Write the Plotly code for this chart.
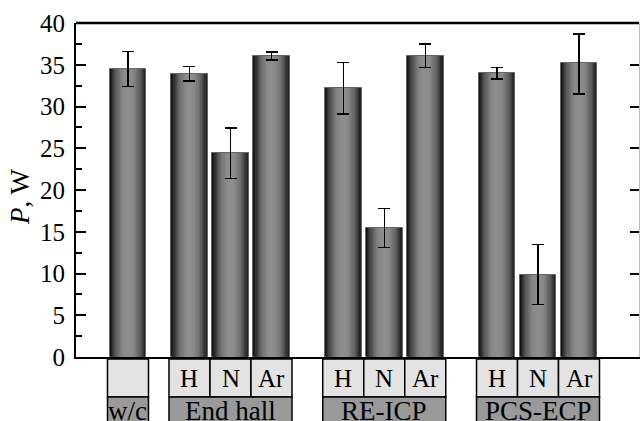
import math
import plotly.graph_objects as go

# ---- data ----
groups = ["w/c", "End hall", "RE-ICP", "PCS-ECP"]
gases = [[""], ["H", "N", "Ar"], ["H", "N", "Ar"], ["H", "N", "Ar"]]
power = [34.5, 33.9, 24.4, 36.1, 32.2, 15.4, 36.1, 34.0, 9.8, 35.2]
err_up = [2.1, 0.9, 3.0, 0.4, 3.1, 2.4, 1.4, 0.65, 3.7, 3.5]
err_down = [2.1, 0.85, 3.0, 0.55, 3.1, 2.3, 1.4, 0.7, 3.5, 3.7]
yticks = [0, 5, 10, 15, 20, 25, 30, 35, 40]

# ---- positions (layout) ----
group_gaps = [0, 1.5, 1.75, 1.75]
pos = []
group_pos = []
cur = 0.0
for gi, g in enumerate(gases):
    if gi > 0:
        cur = pos[-1] + group_gaps[gi]
    start = cur
    for k in range(len(g)):
        pos.append(cur)
        cur += 1
    group_pos.append((start, pos[-1]))

FONT = "Liberation Serif"
fig = go.Figure()

# cylinder-like bars via layered overlay bars
N = 16
full_w = 0.9
for k in range(N):
    u = 1 - k / N
    w = full_w * u
    lvl = int(18 + 125 * (1 - u ** 2.2))
    col = f"rgb({lvl},{lvl},{lvl})"
    fig.add_trace(go.Bar(
        x=pos, y=power, width=w,
        marker=dict(color=col,
                    line=dict(width=1 if k == 0 else 0, color="#666")),
        showlegend=False, hoverinfo="skip",
    ))
fig.add_trace(go.Bar(
    x=pos, y=power, width=0.9,
    marker=dict(color="rgba(0,0,0,0)", line=dict(width=0)),
    error_y=dict(type="data", symmetric=False, array=err_up, arrayminus=err_down,
                 color="black", thickness=1.5, width=6),
    showlegend=False,
))

x0 = -1.268
x1 = 12.463
shapes = []
annotations = []
r1_top, r1_bot = -0.006, -0.12
r2_top, r2_bot = -0.12, -0.30
i = 0
for gi, g in enumerate(gases):
    for lab in g:
        p = pos[i]
        shapes.append(dict(type="rect", xref="x", yref="paper", x0=p - 0.5, x1=p + 0.5,
                           y0=r1_bot, y1=r1_top, fillcolor="#e3e3e3",
                           line=dict(color="black", width=1.5), layer="above"))
        if lab:
            annotations.append(dict(x=p, y=(r1_top + r1_bot) / 2, xref="x", yref="paper",
                                    text=lab, showarrow=False, yanchor="middle",
                                    font=dict(family=FONT, size=25, color="black")))
        i += 1
    s, e = group_pos[gi]
    shapes.append(dict(type="rect", xref="x", yref="paper", x0=s - 0.5, x1=e + 0.5,
                       y0=r2_bot, y1=r2_top, fillcolor="#9a9a9a",
                       line=dict(color="black", width=1.5), layer="above"))
    annotations.append(dict(x=(s + e) / 2, y=-0.111, xref="x", yref="paper",
                            text=groups[gi], showarrow=False, yanchor="top",
                            font=dict(family=FONT, size=27, color="black")))

annotations.append(dict(x=0, y=0.479, xref="paper", yref="paper", xshift=-56,
                        text="<i>P</i>, W", showarrow=False, textangle=-90,
                        xanchor="center", yanchor="middle",
                        font=dict(family=FONT, size=27, color="black")))

shapes.append(dict(type="line", xref="paper", yref="paper", x0=0, x1=1, y0=1, y1=1,
                   line=dict(color="black", width=2.5)))

fig.update_layout(
    width=640, height=421,
    margin=dict(l=76, r=1, t=23, b=64),
    paper_bgcolor="white", plot_bgcolor="white",
    barmode="overlay", bargap=0,
    shapes=shapes, annotations=annotations,
    xaxis=dict(range=[x0, x1], showticklabels=False, ticks="", showgrid=False,
               zeroline=False, showline=True, linecolor="black", linewidth=2),
    yaxis=dict(range=[0, 40], tickvals=yticks, ticks="inside", ticklen=10, tickwidth=1.5,
               tickcolor="black", showline=True, linecolor="black", linewidth=2,
               showgrid=False, zeroline=False,
               tickfont=dict(family=FONT, size=25, color="black"),
               ticklabelstandoff=4,
               minor=dict(dtick=2.5, ticks="inside", ticklen=6, tickwidth=1.5, tickcolor="black")),
    yaxis2=dict(range=[0, 40], tickvals=yticks[1:-1], ticks="inside", ticklen=9, tickwidth=1.5,
                tickcolor="black", overlaying="y", side="right", anchor="x",
                showticklabels=False, showgrid=False, zeroline=False,
                showline=True, linecolor="#bbbbbb", linewidth=1),
)
fig.add_trace(go.Scatter(x=[x0], y=[0], yaxis="y2", mode="markers",
                         marker=dict(opacity=0), showlegend=False, hoverinfo="skip"))

fig.write_html("out.html", config={"displayModeBar": False},
               post_script="document.body.style.margin='0';document.body.style.overflow='hidden';")
